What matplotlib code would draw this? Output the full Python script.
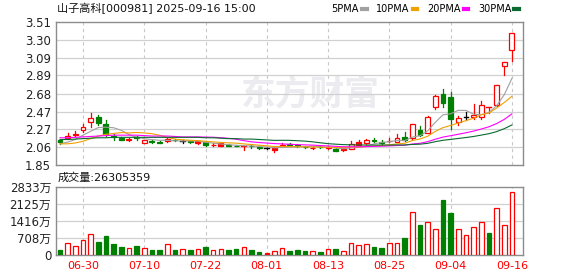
import matplotlib
matplotlib.use("Agg")
import matplotlib.pyplot as plt
from matplotlib.patches import Rectangle
from matplotlib.lines import Line2D
import numpy as np

plt.rcParams['font.family'] = ['DejaVu Sans', 'Noto Sans CJK SC']

# ---- data ----
title = "山子高科[000981] 2025-09-16 15:00"
vol_title = "成交量:26305359"

tick_idx = [3, 11, 19, 27, 35, 43, 51, 59]
tick_labels = ['06-30', '07-10', '07-22', '08-01', '08-13', '08-25', '09-04', '09-16']

opens = [2.14, 2.17, 2.20, 2.26, 2.35, 2.41, 2.33, 2.19, 2.17, 2.14,
         2.18, 2.11, 2.13, 2.12, 2.135, 2.15, 2.13, 2.13, 2.13, 2.12,
         2.085, 2.105, 2.09, 2.08, 2.07, 2.075, 2.065, 2.05, 2.055, 2.08,
         2.10, 2.09, 2.065, 2.05, 2.065, 2.055, 2.045, 2.045, 2.045, 2.12,
         2.105, 2.15, 2.125, 2.13, 2.125, 2.175, 2.17, 2.26, 2.23, 2.52,
         2.67, 2.64, 2.35, 2.41, 2.41, 2.41, 2.525, 2.545, 3.00, 3.18]
highs = [2.15, 2.22, 2.25, 2.33, 2.46, 2.43, 2.37, 2.21, 2.18, 2.17,
         2.19, 2.145, 2.14, 2.13, 2.165, 2.16, 2.15, 2.135, 2.135, 2.13,
         2.11, 2.11, 2.095, 2.085, 2.08, 2.085, 2.07, 2.06, 2.06, 2.11,
         2.105, 2.095, 2.07, 2.065, 2.07, 2.075, 2.05, 2.05, 2.13, 2.14,
         2.155, 2.17, 2.145, 2.165, 2.21, 2.24, 2.33, 2.31, 2.42, 2.66,
         2.735, 2.70, 2.42, 2.47, 2.56, 2.60, 2.53, 2.78, 3.05, 3.38]
lows = [2.10, 2.16, 2.19, 2.24, 2.29, 2.32, 2.19, 2.14, 2.14, 2.13,
        2.15, 2.105, 2.11, 2.105, 2.125, 2.13, 2.11, 2.115, 2.10, 2.08,
        2.07, 2.08, 2.075, 2.07, 2.03, 2.05, 2.04, 2.035, 2.01, 2.075,
        2.08, 2.065, 2.055, 2.045, 2.05, 2.045, 2.02, 2.02, 2.04, 2.085,
        2.095, 2.12, 2.10, 2.12, 2.12, 2.13, 2.16, 2.19, 2.22, 2.50,
        2.53, 2.27, 2.32, 2.375, 2.385, 2.39, 2.455, 2.54, 2.90, 3.06]
closes = [2.12, 2.19, 2.21, 2.30, 2.40, 2.34, 2.21, 2.18, 2.15, 2.16,
          2.17, 2.14, 2.12, 2.115, 2.16, 2.14, 2.13, 2.12, 2.11, 2.09,
          2.09, 2.08, 2.08, 2.075, 2.07, 2.07, 2.05, 2.05, 2.03, 2.09,
          2.085, 2.07, 2.06, 2.055, 2.06, 2.06, 2.02, 2.025, 2.10, 2.09,
          2.145, 2.135, 2.115, 2.135, 2.165, 2.14, 2.33, 2.20, 2.415, 2.655,
          2.575, 2.39, 2.40, 2.41, 2.435, 2.545, 2.525, 2.78, 3.05, 3.38]
# u = red hollow, d = green filled, f = red filled, k = black
kinds = list("duuuuddddududdudkdfdufdduddkfu"
             "dddududfufudduududuuddukuuuuuu")

ma5 = [2.10, 2.12, 2.15, 2.20, 2.244, 2.288, 2.292, 2.286, 2.256, 2.208,
       2.174, 2.16, 2.148, 2.141, 2.141, 2.135, 2.133, 2.133, 2.132, 2.118,
       2.108, 2.098, 2.09, 2.083, 2.079, 2.075, 2.069, 2.063, 2.054, 2.058,
       2.061, 2.065, 2.067, 2.072, 2.066, 2.061, 2.051, 2.044, 2.053, 2.059,
       2.076, 2.099, 2.117, 2.124, 2.139, 2.138, 2.177, 2.194, 2.25, 2.348,
       2.435, 2.447, 2.487, 2.486, 2.442, 2.436, 2.463, 2.539, 2.667, 2.856]
ma10 = [2.10, 2.10, 2.11, 2.13, 2.16, 2.19, 2.21, 2.22, 2.23, 2.226,
        2.231, 2.226, 2.217, 2.199, 2.175, 2.155, 2.147, 2.141, 2.137, 2.13,
        2.122, 2.116, 2.112, 2.108, 2.099, 2.092, 2.084, 2.077, 2.069, 2.069,
        2.068, 2.067, 2.065, 2.063, 2.062, 2.061, 2.058, 2.056, 2.063, 2.063,
        2.069, 2.075, 2.081, 2.089, 2.099, 2.107, 2.138, 2.156, 2.187, 2.244,
        2.287, 2.312, 2.341, 2.368, 2.395, 2.436, 2.455, 2.513, 2.577, 2.649]
ma20 = [2.17, 2.17, 2.175, 2.18, 2.185, 2.19, 2.195, 2.20, 2.20, 2.20,
        2.20, 2.195, 2.19, 2.19, 2.19, 2.185, 2.18, 2.18, 2.18, 2.178,
        2.176, 2.171, 2.164, 2.153, 2.137, 2.123, 2.115, 2.109, 2.103, 2.099,
        2.095, 2.091, 2.088, 2.085, 2.08, 2.076, 2.071, 2.066, 2.066, 2.066,
        2.068, 2.071, 2.073, 2.076, 2.081, 2.084, 2.098, 2.106, 2.125, 2.153,
        2.178, 2.194, 2.211, 2.228, 2.247, 2.271, 2.297, 2.334, 2.382, 2.446]
ma30 = [2.15, 2.15, 2.155, 2.16, 2.165, 2.17, 2.17, 2.175, 2.175, 2.175,
        2.175, 2.175, 2.175, 2.175, 2.175, 2.175, 2.175, 2.175, 2.175, 2.17,
        2.17, 2.165, 2.16, 2.16, 2.155, 2.155, 2.15, 2.145, 2.14, 2.141,
        2.14, 2.136, 2.131, 2.123, 2.112, 2.102, 2.096, 2.091, 2.089, 2.087,
        2.086, 2.086, 2.086, 2.086, 2.087, 2.087, 2.093, 2.096, 2.106, 2.125,
        2.141, 2.151, 2.162, 2.173, 2.185, 2.201, 2.217, 2.241, 2.275, 2.318]

# volume in 万 shares
volume = [215, 497, 376, 618, 860, 551, 780, 470, 336, 296,
          376, 296, 215, 215, 457, 215, 255, 215, 255, 336,
          215, 255, 215, 255, 336, 215, 134, 94, 175, 296,
          175, 215, 175, 175, 134, 255, 255, 175, 497, 417,
          457, 336, 296, 497, 497, 699, 1774, 1263, 1371, 1089,
          2271, 1747, 1089, 847, 1169, 1371, 941, 1935, 1263, 2630]
# r = red hollow, g = green filled, R = red filled
vol_kinds = list("grrrrggggrgrggrgrgrgrrggrggRrr"
                 "gggrgrgrrrrggrrgrgrrggrrrrgrrr")

price_ticks = [1.85, 2.06, 2.27, 2.47, 2.68, 2.89, 3.09, 3.30, 3.51]
vol_ticks = [0, 708, 1416, 2125, 2833]

RED = '#ff0000'
GREEN = '#008000'
GRID = '#d0d0d0'
FRAME = '#8c8c8c'

fig = plt.figure(figsize=(5.78, 2.76), dpi=100)
fig.patch.set_facecolor('white')
ax1 = fig.add_axes([0.0969, 0.4004, 0.808, 0.521])
ax2 = fig.add_axes([0.0969, 0.075, 0.808, 0.2486])

n = len(closes)
x = np.arange(n)
bw = 0.64

for ax in (ax1, ax2):
    ax.set_xlim(-0.52, 60.45)
    for s in ax.spines.values():
        s.set_color(FRAME)
        s.set_linewidth(1.0)
    ax.tick_params(length=0, labelsize=8.5, colors='#222222')
    for t in tick_idx:
        ax.axvline(t, color='#c8c8c8', lw=0.8, ls=(0, (3, 3)), zorder=0)

# watermark
ax1.text(0.545, 0.50, "东方财富", transform=ax1.transAxes, fontsize=25,
         color='#ebebf0', ha='center', va='center', fontweight='bold',
         family=['Noto Sans CJK SC'], zorder=0)

# price panel
ax1.set_ylim(1.85, 3.51)
ax1.set_yticks(price_ticks)
ax1.set_yticklabels(['%.2f' % v for v in price_ticks])
ax1.set_xticks([])
for v in price_ticks[1:-1]:
    ax1.axhline(v, color=GRID, lw=0.9, zorder=0)

for i in range(n):
    o, h, l, c, k = opens[i], highs[i], lows[i], closes[i], kinds[i]
    col = {'u': RED, 'f': RED, 'd': GREEN, 'k': '#000000'}[k]
    ax1.plot([i, i], [l, h], color=col, lw=0.9, zorder=3)
    lo, hi = min(o, c), max(o, c)
    if hi - lo < 0.004:
        ax1.plot([i - bw / 2, i + bw / 2], [c, c], color=col, lw=1.0, zorder=4)
    else:
        face = 'white' if k == 'u' else col
        ax1.add_patch(Rectangle((i - bw / 2, lo), bw, hi - lo, facecolor=face,
                                edgecolor=col, lw=0.9, zorder=4))

ax1.plot(x, ma5, color='#a0a0a0', lw=0.8, zorder=5)
ax1.plot(x, ma10, color='#f0a000', lw=0.8, zorder=5)
ax1.plot(x, ma20, color='#ff00ff', lw=0.8, zorder=5)
ax1.plot(x, ma30, color='#0a6a30', lw=0.8, zorder=5)

handles = [Line2D([], [], color=c, lw=3) for c in ['#a0a0a0', '#f0a000', '#ff00ff', '#0a6a30']]
fig.legend(handles, ['5PMA', '10PMA', '20PMA', '30PMA'], loc='center',
           bbox_to_anchor=(0.736, 0.966), ncol=4, frameon=False, fontsize=7,
           markerfirst=False, handlelength=0.5, handletextpad=0.3, columnspacing=1.0)

fig.text(0.099, 0.968, title, fontsize=8, ha='left', va='center', color='#111111')
fig.text(0.099, 0.358, vol_title, fontsize=8, ha='left', va='center', color='#111111')

# volume panel
ax2.set_ylim(0, 2833)
ax2.set_yticks(vol_ticks)
ax2.set_yticklabels(['0'] + ['%d万' % v for v in vol_ticks[1:]])
for v in vol_ticks[1:-1]:
    ax2.axhline(v, color=GRID, lw=0.9, zorder=0)
faces = ['white' if k == 'r' else (RED if k == 'R' else GREEN) for k in vol_kinds]
edges = [RED if k in 'rR' else GREEN for k in vol_kinds]
ax2.bar(x, volume, width=0.6, color=faces, edgecolor=edges, linewidth=0.9, zorder=3)
ax2.set_xticks(tick_idx)
ax2.set_xticklabels(tick_labels, color=RED, fontsize=8)
ax2.tick_params(axis='x', colors=RED, pad=4)

plt.savefig("out.png", dpi=100)
